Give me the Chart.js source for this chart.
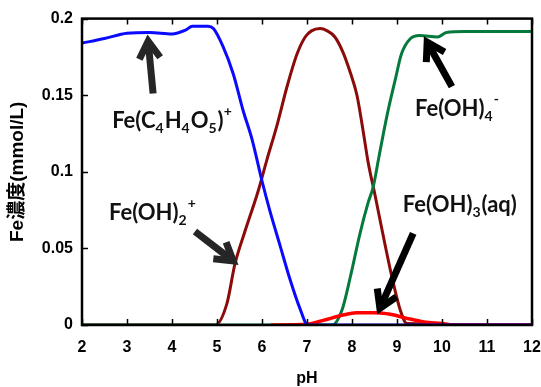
<!DOCTYPE html>
<html>
<head>
<meta charset="utf-8">
<script src="https://cdn.jsdelivr.net/npm/chart.js"></script>
<style>
  html, body { margin: 0; padding: 0; background: #fff; }
  #chart { display: block; }
</style>
</head>
<body>
<canvas id="chart" width="541" height="387"></canvas>
<script>
// pH grid / concentration (mmol/L)
const phBlue = [2, 2.5, 3, 3.5, 4, 4.3, 4.45, 4.8, 4.92, 5.13, 5.36, 5.58, 5.78, 6.0, 6.18, 6.4, 6.62, 6.84, 7.02, 8, 12];
const feMalate = [0.184, 0.187, 0.1905, 0.191, 0.190, 0.1925, 0.195, 0.195, 0.1935, 0.182, 0.164, 0.140, 0.121, 0.094, 0.074, 0.052, 0.030, 0.011, 0, 0, 0];

const phDarkRed = [2, 4.96, 5.22, 5.4, 5.62, 5.91, 6.11, 6.33, 6.56, 6.78, 6.96, 7.1, 7.29, 7.45, 7.62, 7.8, 7.96, 8.11, 8.24, 8.36, 8.51, 8.73, 8.89, 9.07, 9.22, 12];
const feOH2 = [0, 0, 0.014, 0.040, 0.061, 0.087, 0.108, 0.130, 0.156, 0.177, 0.188, 0.192, 0.1935, 0.192, 0.188, 0.178, 0.165, 0.150, 0.128, 0.106, 0.085, 0.053, 0.031, 0.010, 0.001, 0];

const phGreen = [2, 7.56, 7.78, 7.96, 8.18, 8.36, 8.47, 8.6, 8.78, 8.96, 9.1, 9.3, 9.5, 9.9, 10.1, 10.5, 12];
const feOH4 = [0, 0, 0.010, 0.031, 0.060, 0.080, 0.090, 0.110, 0.137, 0.160, 0.177, 0.187, 0.189, 0.188, 0.191, 0.1915, 0.1915];

const phRed = [6.2, 7.0, 7.36, 7.8, 8.1, 8.55, 8.85, 9.2, 9.6, 10.0, 10.3, 12];
const feOH3 = [0, 0.0005, 0.003, 0.0065, 0.008, 0.008, 0.007, 0.0045, 0.002, 0.001, 0, 0];

const xTickLabels = ['2', '3', '4', '5', '6', '7', '8', '9', '10', '11', '12'];
const yTickLabels = ['0', '0.05', '0.1', '0.15', '0.2'];

// species labels and arrows, in data coordinates (pH, mmol/L)
const labels = [
  { at: [2.67, 0.1286], parts: [['Fe(C'], ['4', 'sub'], ['H'], ['4', 'sub'], ['O'], ['5', 'sub'], [')'], ['+', 'sup']] },
  { at: [9.40, 0.1363], parts: [['Fe(OH)'], ['4', 'sub'], ['-', 'sup']] },
  { at: [2.60, 0.0688], parts: [['Fe(OH)'], ['2', 'sub'], ['+', 'sup']] },
  { at: [9.13, 0.0740], parts: [['Fe(OH)'], ['3', 'sub'], ['(aq)']] }
];
const arrows = [
  { from: [3.58, 0.1511], to: [3.47, 0.1852], color: '#262626' },
  { from: [10.22, 0.1556], to: [9.67, 0.1846], color: '#000' },
  { from: [4.51, 0.0611], to: [5.36, 0.0418], color: '#262626' },
  { from: [9.36, 0.0598], to: [8.62, 0.0109], color: '#000' }
];

function pts(xs, ys) {
  return xs.map((x, i) => ({ x: x, y: ys[i] }));
}

const frame = {
  id: 'frame',
  afterDraw(chart) {
    const { ctx, chartArea: a, scales: { x, y } } = chart;
    ctx.save();
    ctx.strokeStyle = '#000';
    ctx.lineWidth = 1.5;
    ctx.beginPath();
    x.ticks.forEach(t => {
      const px = Math.round(x.getPixelForValue(t.value)) + 0.5;
      ctx.moveTo(px, a.bottom); ctx.lineTo(px, a.bottom - 6);
      ctx.moveTo(px, a.top); ctx.lineTo(px, a.top + 6);
    });
    y.ticks.forEach(t => {
      const py = Math.round(y.getPixelForValue(t.value)) + 0.5;
      ctx.moveTo(a.left, py); ctx.lineTo(a.left + 6, py);
    });
    ctx.stroke();
    ctx.lineWidth = 2.5;
    ctx.strokeRect(a.left, a.top, a.right - a.left, a.bottom - a.top);
    ctx.restore();
  }
};

const notes = {
  id: 'notes',
  afterDatasetsDraw(chart) {
    const { ctx, scales: { x, y } } = chart;
    ctx.save();
    arrows.forEach(ar => {
      const x0 = x.getPixelForValue(ar.from[0]), y0 = y.getPixelForValue(ar.from[1]);
      const x1 = x.getPixelForValue(ar.to[0]), y1 = y.getPixelForValue(ar.to[1]);
      const ang = Math.atan2(y1 - y0, x1 - x0);
      ctx.strokeStyle = ar.color;
      ctx.lineWidth = 7;
      ctx.lineJoin = 'miter';
      ctx.beginPath();
      ctx.moveTo(x0, y0);
      ctx.lineTo(x1 - 3 * Math.cos(ang), y1 - 3 * Math.sin(ang));
      ctx.stroke();
      const wing = 20, spread = 0.55;
      ctx.beginPath();
      ctx.moveTo(x1 - wing * Math.cos(ang - spread), y1 - wing * Math.sin(ang - spread));
      ctx.lineTo(x1, y1);
      ctx.lineTo(x1 - wing * Math.cos(ang + spread), y1 - wing * Math.sin(ang + spread));
      ctx.stroke();
    });
    ctx.fillStyle = '#111';
    ctx.textBaseline = 'alphabetic';
    labels.forEach(l => {
      let px = x.getPixelForValue(l.at[0]);
      const py = y.getPixelForValue(l.at[1]);
      l.parts.forEach(([txt, kind]) => {
        let size = 22, dy = 0;
        if (kind === 'sub') { size = 14; dy = 5; }
        if (kind === 'sup') { size = 14; dy = -12; }
        ctx.font = 'bold ' + size + 'px Lato, "Open Sans", sans-serif';
        ctx.fillText(txt, px, py + dy);
        px += ctx.measureText(txt).width + (kind ? 1 : 0);
      });
    });
    ctx.restore();
  }
};

const tickFont = { family: '"Liberation Sans", Arial, sans-serif', size: 16, weight: 'bold' };

new Chart(document.getElementById('chart'), {
  type: 'line',
  data: {
    datasets: [
      { label: 'Fe(C4H4O5)+', data: pts(phBlue, feMalate), borderColor: '#0a0aff', borderWidth: 3, order: 0 },
      { label: 'Fe(OH)3(aq)', data: pts(phRed, feOH3), borderColor: '#ff0000', borderWidth: 3.5, order: 1 },
      { label: 'Fe(OH)4-', data: pts(phGreen, feOH4), borderColor: '#057a3c', borderWidth: 3, order: 2 },
      { label: 'Fe(OH)2+', data: pts(phDarkRed, feOH2), borderColor: '#8b0a0a', borderWidth: 3, order: 3 }
    ]
  },
  options: {
    responsive: false,
    animation: false,
    devicePixelRatio: 1,
    layout: { padding: { top: 14, right: 0, left: 0, bottom: 0 } },
    elements: {
      point: { radius: 0 },
      line: { cubicInterpolationMode: 'monotone', fill: false }
    },
    scales: {
      x: {
        type: 'linear', min: 2, max: 12,
        grid: { display: false, drawTicks: false },
        border: { display: false },
        ticks: {
          stepSize: 1, padding: 13, color: '#000', font: tickFont,
          callback: (v, i) => xTickLabels[i]
        },
        title: { display: true, text: 'pH', color: '#000', font: { family: '"Liberation Sans", Arial, sans-serif', size: 16, weight: 'bold' }, padding: { top: 4, bottom: -1 } },
        afterFit: s => { s.height = 62; s.paddingRight = 9; }
      },
      y: {
        type: 'linear', min: 0, max: 0.2,
        grid: { display: false, drawTicks: false },
        border: { display: false },
        ticks: {
          stepSize: 0.05, padding: 9, color: '#000', font: tickFont,
          callback: (v, i) => yTickLabels[i]
        },
        title: { display: true, text: 'Fe濃度(mmol/L)', color: '#000', font: { family: '"Liberation Sans", "Noto Sans CJK JP", sans-serif', size: 19, weight: 'bold' }, padding: { top: 6, bottom: 0 } },
        afterFit: s => { s.width = 82; }
      }
    },
    plugins: {
      legend: { display: false },
      tooltip: { enabled: false }
    }
  },
  plugins: [notes, frame]
});
</script>
</body>
</html>
